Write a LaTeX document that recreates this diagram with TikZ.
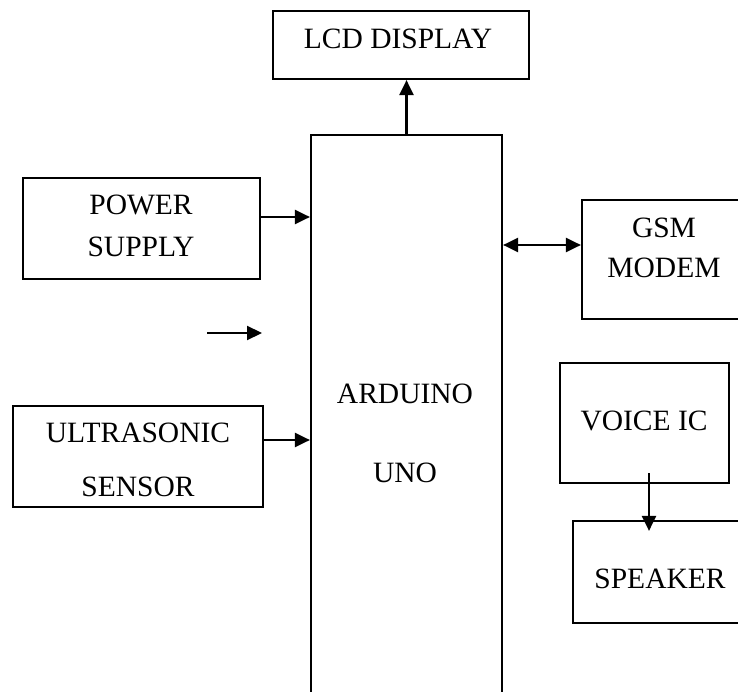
\documentclass[tikz,border=0pt]{standalone}
\usepackage{fontspec}
\setmainfont{Liberation Serif}
\usetikzlibrary{arrows.meta,calc}

\begin{document}
\begin{tikzpicture}[x={(1pt,0pt)}, y={(0pt,-1pt)}, line width=2.2pt,
  blk/.style={draw, rectangle, inner sep=0pt},
  txt/.style={font=\fontsize{29.5}{#1}\selectfont, align=center, inner sep=0pt},
  txt/.default=42,
  arr/.style={-{Triangle[length=15pt,width=14pt]}},
  darr/.style={{Triangle[length=15pt,width=14pt]}-{Triangle[length=15pt,width=14pt]}},
]
\useasboundingbox (0,0) rectangle (738,692);
\clip (0,0) rectangle (738,692);
% boxes
\node[blk, minimum width=256pt, minimum height=68pt]  (lcd)     at (401,45)    {};
\node[blk, minimum width=237pt, minimum height=101pt] (power)   at (141.5,228.5) {};
\node[blk, minimum width=250pt, minimum height=101pt] (ultra)   at (138,456.5) {};
\node[blk, minimum width=191pt, minimum height=625pt] (arduino) at (406.5,447.5) {};
\node[blk, minimum width=218pt, minimum height=119pt] (gsm)     at (691,259.5) {};
\node[blk, minimum width=169pt, minimum height=120pt] (voice)   at (644.5,423) {};
\node[blk, minimum width=227pt, minimum height=102pt] (speaker) at (686.5,572) {};
% texts
\node[txt]     (lcdtxt)     at (398,39)    {LCD DISPLAY};
\node[txt]     (powertxt)   at (141,226)   {POWER\\SUPPLY};
\node[txt=54]  (ultratxt)   at (138,459.5) {ULTRASONIC\\SENSOR};
\node[txt=79]  (arduinotxt) at (405,433.5) {ARDUINO\\UNO};
\node[txt=40]  (gsmtxt)     at (664,247.5) {GSM\\MODEM};
\node[txt]     (voicetxt)   at (644,421)   {VOICE IC};
\node[txt]     (speakertxt) at (660,579)   {SPEAKER};
% connectors
\draw[arr] (arduino.north) -- (arduino.north |- lcd.south);
\draw[arr] ($(power.east)+(0,-11.5)$) coordinate (pwin) -- (pwin -| arduino.west);
\draw[arr] ($(ultra.east)+(0,-16.5)$) coordinate (usin) -- (usin -| arduino.west);
\draw[darr] ($(gsm.west)+(0,-14.5)$) coordinate (gsmio) -- (gsmio -| arduino.east);
\coordinate (lonetail) at (207,333);
\coordinate (lonehead) at (262,333);
\draw[arr] (lonetail) -- (lonehead);
\draw[arr] ($(voice.south)+(4.5,-11)$) coordinate (vout) -- ($(vout |- speaker.north)+(0,11)$);
\end{tikzpicture}
\end{document}
